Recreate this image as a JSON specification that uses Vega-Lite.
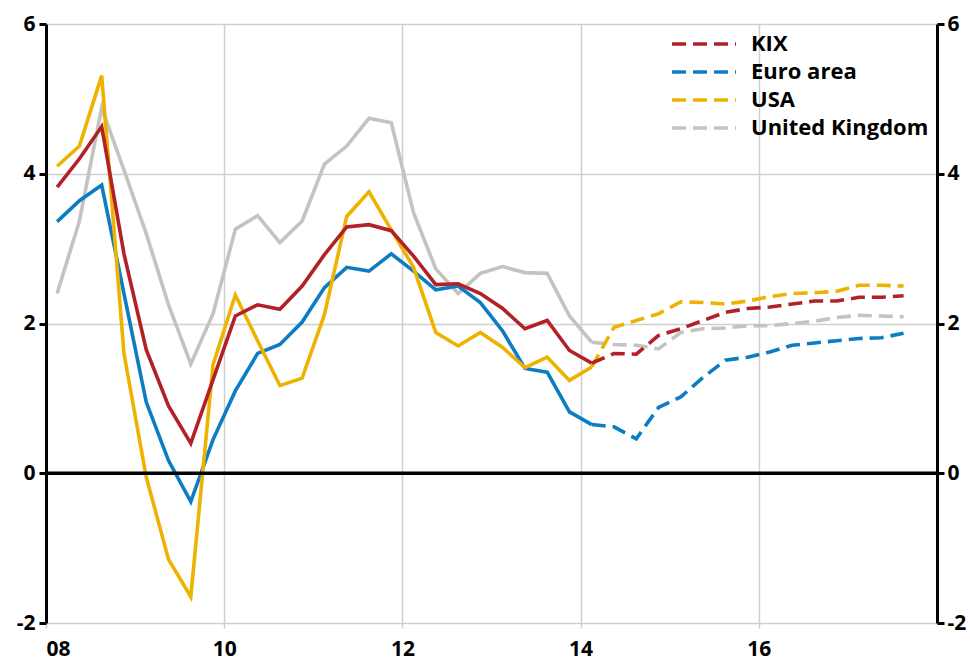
{
  "$schema": "https://vega.github.io/schema/vega-lite/v6.json",
  "width": 891,
  "height": 599,
  "autosize": {"type": "none"},
  "padding": {"left": 46, "top": 24, "right": 33, "bottom": 38},
  "background": "white",
  "config": {"view": {"stroke": null}, "font": "Open Sans"},
  "datasets": {
    "series": [
      {"s":"United Kingdom","t":2008.125,"v":2.4,"p":"a"},{"s":"United Kingdom","t":2008.375,"v":3.37,"p":"a"},{"s":"United Kingdom","t":2008.625,"v":4.88,"p":"a"},{"s":"United Kingdom","t":2008.875,"v":4.05,"p":"a"},{"s":"United Kingdom","t":2009.125,"v":3.2,"p":"a"},{"s":"United Kingdom","t":2009.375,"v":2.25,"p":"a"},{"s":"United Kingdom","t":2009.625,"v":1.46,"p":"a"},{"s":"United Kingdom","t":2009.875,"v":2.13,"p":"a"},{"s":"United Kingdom","t":2010.125,"v":3.26,"p":"a"},{"s":"United Kingdom","t":2010.375,"v":3.44,"p":"a"},{"s":"United Kingdom","t":2010.625,"v":3.08,"p":"a"},{"s":"United Kingdom","t":2010.875,"v":3.37,"p":"a"},{"s":"United Kingdom","t":2011.125,"v":4.13,"p":"a"},{"s":"United Kingdom","t":2011.375,"v":4.37,"p":"a"},{"s":"United Kingdom","t":2011.625,"v":4.74,"p":"a"},{"s":"United Kingdom","t":2011.875,"v":4.68,"p":"a"},{"s":"United Kingdom","t":2012.125,"v":3.48,"p":"a"},{"s":"United Kingdom","t":2012.375,"v":2.73,"p":"a"},{"s":"United Kingdom","t":2012.625,"v":2.4,"p":"a"},{"s":"United Kingdom","t":2012.875,"v":2.67,"p":"a"},{"s":"United Kingdom","t":2013.125,"v":2.76,"p":"a"},{"s":"United Kingdom","t":2013.375,"v":2.68,"p":"a"},{"s":"United Kingdom","t":2013.625,"v":2.67,"p":"a"},{"s":"United Kingdom","t":2013.875,"v":2.1,"p":"a"},{"s":"United Kingdom","t":2014.125,"v":1.75,"p":"a"},
      {"s":"United Kingdom","t":2014.125,"v":1.75,"p":"f"},{"s":"United Kingdom","t":2014.375,"v":1.72,"p":"f"},{"s":"United Kingdom","t":2014.625,"v":1.71,"p":"f"},{"s":"United Kingdom","t":2014.875,"v":1.66,"p":"f"},{"s":"United Kingdom","t":2015.125,"v":1.88,"p":"f"},{"s":"United Kingdom","t":2015.375,"v":1.93,"p":"f"},{"s":"United Kingdom","t":2015.625,"v":1.94,"p":"f"},{"s":"United Kingdom","t":2015.875,"v":1.97,"p":"f"},{"s":"United Kingdom","t":2016.125,"v":1.97,"p":"f"},{"s":"United Kingdom","t":2016.375,"v":2.0,"p":"f"},{"s":"United Kingdom","t":2016.625,"v":2.03,"p":"f"},{"s":"United Kingdom","t":2016.875,"v":2.08,"p":"f"},{"s":"United Kingdom","t":2017.125,"v":2.11,"p":"f"},{"s":"United Kingdom","t":2017.375,"v":2.1,"p":"f"},{"s":"United Kingdom","t":2017.625,"v":2.09,"p":"f"},

      {"s":"Euro area","t":2008.125,"v":3.36,"p":"a"},{"s":"Euro area","t":2008.375,"v":3.64,"p":"a"},{"s":"Euro area","t":2008.625,"v":3.85,"p":"a"},{"s":"Euro area","t":2008.875,"v":2.4,"p":"a"},{"s":"Euro area","t":2009.125,"v":0.95,"p":"a"},{"s":"Euro area","t":2009.375,"v":0.17,"p":"a"},{"s":"Euro area","t":2009.625,"v":-0.38,"p":"a"},{"s":"Euro area","t":2009.875,"v":0.45,"p":"a"},{"s":"Euro area","t":2010.125,"v":1.1,"p":"a"},{"s":"Euro area","t":2010.375,"v":1.6,"p":"a"},{"s":"Euro area","t":2010.625,"v":1.72,"p":"a"},{"s":"Euro area","t":2010.875,"v":2.02,"p":"a"},{"s":"Euro area","t":2011.125,"v":2.48,"p":"a"},{"s":"Euro area","t":2011.375,"v":2.75,"p":"a"},{"s":"Euro area","t":2011.625,"v":2.7,"p":"a"},{"s":"Euro area","t":2011.875,"v":2.93,"p":"a"},{"s":"Euro area","t":2012.125,"v":2.7,"p":"a"},{"s":"Euro area","t":2012.375,"v":2.45,"p":"a"},{"s":"Euro area","t":2012.625,"v":2.5,"p":"a"},{"s":"Euro area","t":2012.875,"v":2.28,"p":"a"},{"s":"Euro area","t":2013.125,"v":1.9,"p":"a"},{"s":"Euro area","t":2013.375,"v":1.4,"p":"a"},{"s":"Euro area","t":2013.625,"v":1.35,"p":"a"},{"s":"Euro area","t":2013.875,"v":0.82,"p":"a"},{"s":"Euro area","t":2014.125,"v":0.65,"p":"a"},
      {"s":"Euro area","t":2014.125,"v":0.65,"p":"f"},{"s":"Euro area","t":2014.375,"v":0.62,"p":"f"},{"s":"Euro area","t":2014.625,"v":0.46,"p":"f"},{"s":"Euro area","t":2014.875,"v":0.88,"p":"f"},{"s":"Euro area","t":2015.125,"v":1.02,"p":"f"},{"s":"Euro area","t":2015.375,"v":1.28,"p":"f"},{"s":"Euro area","t":2015.625,"v":1.51,"p":"f"},{"s":"Euro area","t":2015.875,"v":1.55,"p":"f"},{"s":"Euro area","t":2016.125,"v":1.62,"p":"f"},{"s":"Euro area","t":2016.375,"v":1.71,"p":"f"},{"s":"Euro area","t":2016.625,"v":1.74,"p":"f"},{"s":"Euro area","t":2016.875,"v":1.77,"p":"f"},{"s":"Euro area","t":2017.125,"v":1.8,"p":"f"},{"s":"Euro area","t":2017.375,"v":1.81,"p":"f"},{"s":"Euro area","t":2017.625,"v":1.87,"p":"f"},

      {"s":"USA","t":2008.125,"v":4.1,"p":"a"},{"s":"USA","t":2008.375,"v":4.37,"p":"a"},{"s":"USA","t":2008.625,"v":5.31,"p":"a"},{"s":"USA","t":2008.875,"v":1.6,"p":"a"},{"s":"USA","t":2009.125,"v":-0.05,"p":"a"},{"s":"USA","t":2009.375,"v":-1.15,"p":"a"},{"s":"USA","t":2009.625,"v":-1.65,"p":"a"},{"s":"USA","t":2009.875,"v":1.45,"p":"a"},{"s":"USA","t":2010.125,"v":2.38,"p":"a"},{"s":"USA","t":2010.375,"v":1.77,"p":"a"},{"s":"USA","t":2010.625,"v":1.17,"p":"a"},{"s":"USA","t":2010.875,"v":1.27,"p":"a"},{"s":"USA","t":2011.125,"v":2.12,"p":"a"},{"s":"USA","t":2011.375,"v":3.43,"p":"a"},{"s":"USA","t":2011.625,"v":3.76,"p":"a"},{"s":"USA","t":2011.875,"v":3.25,"p":"a"},{"s":"USA","t":2012.125,"v":2.75,"p":"a"},{"s":"USA","t":2012.375,"v":1.88,"p":"a"},{"s":"USA","t":2012.625,"v":1.7,"p":"a"},{"s":"USA","t":2012.875,"v":1.88,"p":"a"},{"s":"USA","t":2013.125,"v":1.68,"p":"a"},{"s":"USA","t":2013.375,"v":1.41,"p":"a"},{"s":"USA","t":2013.625,"v":1.55,"p":"a"},{"s":"USA","t":2013.875,"v":1.24,"p":"a"},{"s":"USA","t":2014.125,"v":1.42,"p":"a"},
      {"s":"USA","t":2014.125,"v":1.42,"p":"f"},{"s":"USA","t":2014.375,"v":1.95,"p":"f"},{"s":"USA","t":2014.625,"v":2.04,"p":"f"},{"s":"USA","t":2014.875,"v":2.13,"p":"f"},{"s":"USA","t":2015.125,"v":2.29,"p":"f"},{"s":"USA","t":2015.375,"v":2.28,"p":"f"},{"s":"USA","t":2015.625,"v":2.26,"p":"f"},{"s":"USA","t":2015.875,"v":2.3,"p":"f"},{"s":"USA","t":2016.125,"v":2.36,"p":"f"},{"s":"USA","t":2016.375,"v":2.4,"p":"f"},{"s":"USA","t":2016.625,"v":2.41,"p":"f"},{"s":"USA","t":2016.875,"v":2.43,"p":"f"},{"s":"USA","t":2017.125,"v":2.51,"p":"f"},{"s":"USA","t":2017.375,"v":2.51,"p":"f"},{"s":"USA","t":2017.625,"v":2.5,"p":"f"},

      {"s":"KIX","t":2008.125,"v":3.82,"p":"a"},{"s":"KIX","t":2008.375,"v":4.2,"p":"a"},{"s":"KIX","t":2008.625,"v":4.63,"p":"a"},{"s":"KIX","t":2008.875,"v":2.93,"p":"a"},{"s":"KIX","t":2009.125,"v":1.65,"p":"a"},{"s":"KIX","t":2009.375,"v":0.9,"p":"a"},{"s":"KIX","t":2009.625,"v":0.4,"p":"a"},{"s":"KIX","t":2009.875,"v":1.25,"p":"a"},{"s":"KIX","t":2010.125,"v":2.1,"p":"a"},{"s":"KIX","t":2010.375,"v":2.25,"p":"a"},{"s":"KIX","t":2010.625,"v":2.19,"p":"a"},{"s":"KIX","t":2010.875,"v":2.5,"p":"a"},{"s":"KIX","t":2011.125,"v":2.92,"p":"a"},{"s":"KIX","t":2011.375,"v":3.29,"p":"a"},{"s":"KIX","t":2011.625,"v":3.32,"p":"a"},{"s":"KIX","t":2011.875,"v":3.24,"p":"a"},{"s":"KIX","t":2012.125,"v":2.9,"p":"a"},{"s":"KIX","t":2012.375,"v":2.52,"p":"a"},{"s":"KIX","t":2012.625,"v":2.53,"p":"a"},{"s":"KIX","t":2012.875,"v":2.4,"p":"a"},{"s":"KIX","t":2013.125,"v":2.2,"p":"a"},{"s":"KIX","t":2013.375,"v":1.93,"p":"a"},{"s":"KIX","t":2013.625,"v":2.04,"p":"a"},{"s":"KIX","t":2013.875,"v":1.64,"p":"a"},{"s":"KIX","t":2014.125,"v":1.47,"p":"a"},
      {"s":"KIX","t":2014.125,"v":1.47,"p":"f"},{"s":"KIX","t":2014.375,"v":1.6,"p":"f"},{"s":"KIX","t":2014.625,"v":1.59,"p":"f"},{"s":"KIX","t":2014.875,"v":1.84,"p":"f"},{"s":"KIX","t":2015.125,"v":1.93,"p":"f"},{"s":"KIX","t":2015.375,"v":2.04,"p":"f"},{"s":"KIX","t":2015.625,"v":2.15,"p":"f"},{"s":"KIX","t":2015.875,"v":2.2,"p":"f"},{"s":"KIX","t":2016.125,"v":2.22,"p":"f"},{"s":"KIX","t":2016.375,"v":2.26,"p":"f"},{"s":"KIX","t":2016.625,"v":2.3,"p":"f"},{"s":"KIX","t":2016.875,"v":2.3,"p":"f"},{"s":"KIX","t":2017.125,"v":2.35,"p":"f"},{"s":"KIX","t":2017.375,"v":2.35,"p":"f"},{"s":"KIX","t":2017.625,"v":2.37,"p":"f"}
    ],
    "zero": [{"y": 0}]
  },
  "layer": [
    {
      "data": {"name": "series"},
      "transform": [{"filter": "datum.p === 'a'"}],
      "mark": {"type": "line", "strokeWidth": 3.6},
      "encoding": {
        "x": {"field": "t", "type": "quantitative",
          "scale": {"domain": [2008, 2018], "nice": false, "zero": false},
          "axis": {"values": [2008, 2010, 2012, 2014, 2016], "labelExpr": "format(datum.value % 100, '02d')", "title": null, "domain": false, "grid": true, "gridColor": "#cfcfcf", "gridWidth": 1.5, "ticks": true, "tickColor": "#cfcfcf", "tickSize": 5, "tickWidth": 1.5, "labelFont": "Open Sans", "labelFontWeight": "bold", "labelFontSize": 21, "labelColor": "black", "labelPadding": 10}},
        "y": {"field": "v", "type": "quantitative",
          "scale": {"domain": [-2, 6], "nice": false, "zero": false},
          "axis": {"orient": "left", "values": [-2, 0, 2, 4, 6], "labelExpr": "datum.value < 0 ? '-' + abs(datum.value) : '' + datum.value", "title": null, "domainColor": "black", "domainWidth": 3, "tickColor": "black", "tickWidth": 3, "tickSize": 7, "grid": true, "gridColor": "#cfcfcf", "gridWidth": 1.5, "labelFont": "Open Sans", "labelFontWeight": "bold", "labelFontSize": 21, "labelColor": "black", "labelPadding": 4}},
        "color": {"field": "s", "type": "nominal",
          "scale": {"domain": ["KIX", "Euro area", "USA", "United Kingdom"], "range": ["#B22028", "#0C7DC3", "#EEB200", "#C3C3C3"]}},
        "detail": {"field": "s"}
      }
    },
    {
      "data": {"name": "series"},
      "transform": [{"filter": "datum.p === 'f'"}],
      "mark": {"type": "line", "strokeWidth": 3.6, "strokeDash": [14, 7]},
      "encoding": {
        "x": {"field": "t", "type": "quantitative"},
        "y": {"field": "v", "type": "quantitative", "scale": {"domain": [-2, 6], "nice": false, "zero": false}, "axis": null},
        "color": {"field": "s", "type": "nominal",
          "legend": {"orient": "none", "legendX": 647, "legendY": 9, "title": null, "padding": 0, "symbolType": "M-4,0H4", "symbolSize": 256, "symbolStrokeWidth": 3.6, "symbolDash": [14, 7], "labelFont": "Open Sans", "labelFontWeight": "bold", "labelFontSize": 22, "labelColor": "black", "labelOffset": 36, "labelLimit": 0, "rowPadding": 6}},
        "detail": {"field": "s"}
      }
    },
    {
      "data": {"name": "zero"},
      "mark": {"type": "rule", "color": "black", "strokeWidth": 3.5},
      "encoding": {
        "y": {"field": "y", "type": "quantitative", "scale": {"domain": [-2, 6], "nice": false, "zero": false},
          "axis": {"orient": "right", "values": [-2, 0, 2, 4, 6], "labelExpr": "datum.value < 0 ? '-' + abs(datum.value) : '' + datum.value", "title": null, "domainColor": "black", "domainWidth": 3, "tickColor": "black", "tickWidth": 3, "tickSize": 7, "grid": false, "labelFont": "Open Sans", "labelFontWeight": "bold", "labelFontSize": 21, "labelColor": "black", "labelPadding": 3}}
      }
    }
  ],
  "resolve": {"scale": {"y": "independent"}}
}
